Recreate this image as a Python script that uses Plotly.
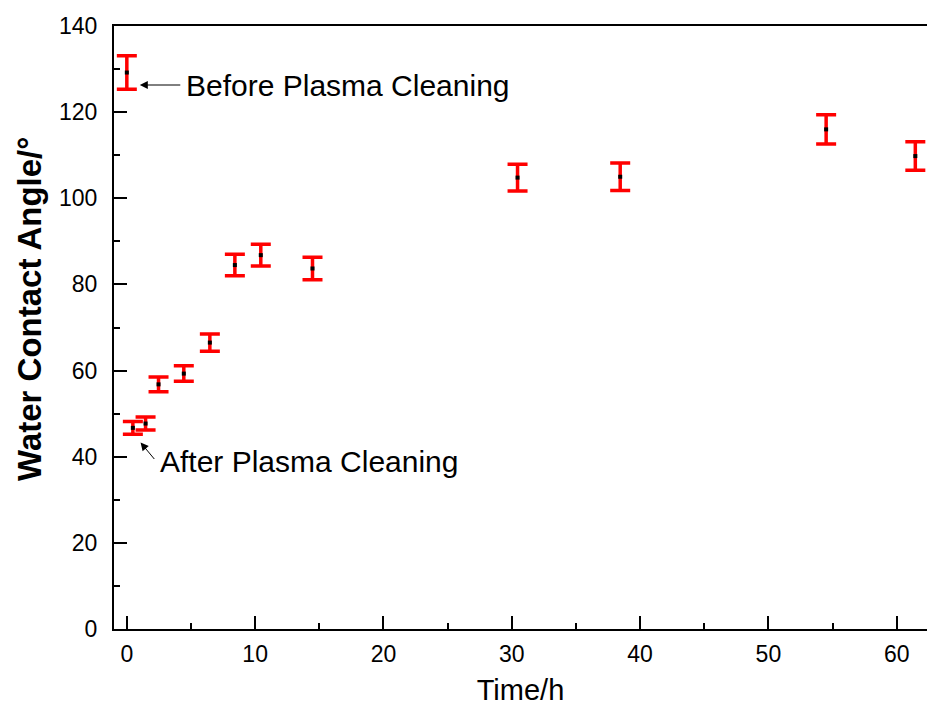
import plotly.graph_objects as go

time_h = [0.0, 0.47, 1.46, 2.47, 4.44, 6.47, 8.42, 10.44, 14.47, 30.45, 38.45, 54.5, 61.45]
angle = [129.2, 46.7, 47.7, 56.8, 59.3, 66.5, 84.5, 86.8, 83.7, 104.8, 105.0, 116.0, 109.8]
err = [3.9, 1.5, 1.5, 1.7, 1.8, 2.0, 2.5, 2.5, 2.6, 3.1, 3.2, 3.4, 3.3]

FONT = "Liberation Sans, Arial, sans-serif"

fig = go.Figure()
fig.add_trace(go.Scatter(
    x=time_h, y=angle, mode="markers",
    marker=dict(symbol="square", size=4, color="black"),
    error_y=dict(type="data", array=err, visible=True, color="#ff0000", thickness=3.5, width=10),
    showlegend=False,
))

# Before Plasma Cleaning
fig.add_annotation(x=1.01, y=126.3, xref="x", yref="y", text="",
                   showarrow=True, arrowhead=2, arrowsize=1.6, arrowwidth=1, arrowcolor="black",
                   ax=42, ay=0)
fig.add_annotation(x=4.44, y=126.3, xref="x", yref="y", text="Before Plasma Cleaning",
                   showarrow=False, xanchor="left", yanchor="middle",
                   font=dict(family=FONT, size=30, color="black"))
# After Plasma Cleaning
fig.add_annotation(x=1.07, y=43.3, xref="x", yref="y", text="",
                   showarrow=True, arrowhead=2, arrowsize=1.6, arrowwidth=1, arrowcolor="black",
                   ax=15, ay=18)
fig.add_annotation(x=2.42, y=39.0, xref="x", yref="y", text="After Plasma Cleaning",
                   showarrow=False, xanchor="left", yanchor="middle",
                   font=dict(family=FONT, size=30, color="black"))

# y-axis title (positioned like the original, slightly above centre)
fig.add_annotation(x=-0.1033, y=0.5307, xref="paper", yref="paper",
                   text="<b>Water Contact Angle/°</b>", textangle=-90, showarrow=False,
                   xanchor="center", yanchor="middle",
                   font=dict(family=FONT, size=33, color="black"))

fig.update_layout(
    width=927, height=711,
    margin=dict(l=114, r=0, t=26, b=82),
    paper_bgcolor="white", plot_bgcolor="white",
    font=dict(family=FONT, color="black"),
    xaxis=dict(
        range=[-1.0, 62.36], showgrid=False, zeroline=False,
        showline=True, linecolor="black", linewidth=2, mirror=True,
        ticks="inside", ticklen=13, tickwidth=1.5, tickcolor="black",
        tick0=0, dtick=10, ticklabelstandoff=3,
        minor=dict(ticks="inside", ticklen=6, tickwidth=1.5, tickcolor="black", dtick=5),
        tickfont=dict(size=23, family=FONT),
        title=dict(text="Time/h", font=dict(size=29, family=FONT), standoff=14),
    ),
    yaxis=dict(
        range=[0, 140], showgrid=False, zeroline=False,
        showline=True, linecolor="black", linewidth=2, mirror=False,
        ticks="inside", ticklen=13, tickwidth=1.5, tickcolor="black",
        tick0=0, dtick=20, ticklabelstandoff=10,
        minor=dict(ticks="inside", ticklen=6, tickwidth=1.5, tickcolor="black", dtick=10),
        tickfont=dict(size=23, family=FONT),
    ),
)

fig.write_html("out.html")
